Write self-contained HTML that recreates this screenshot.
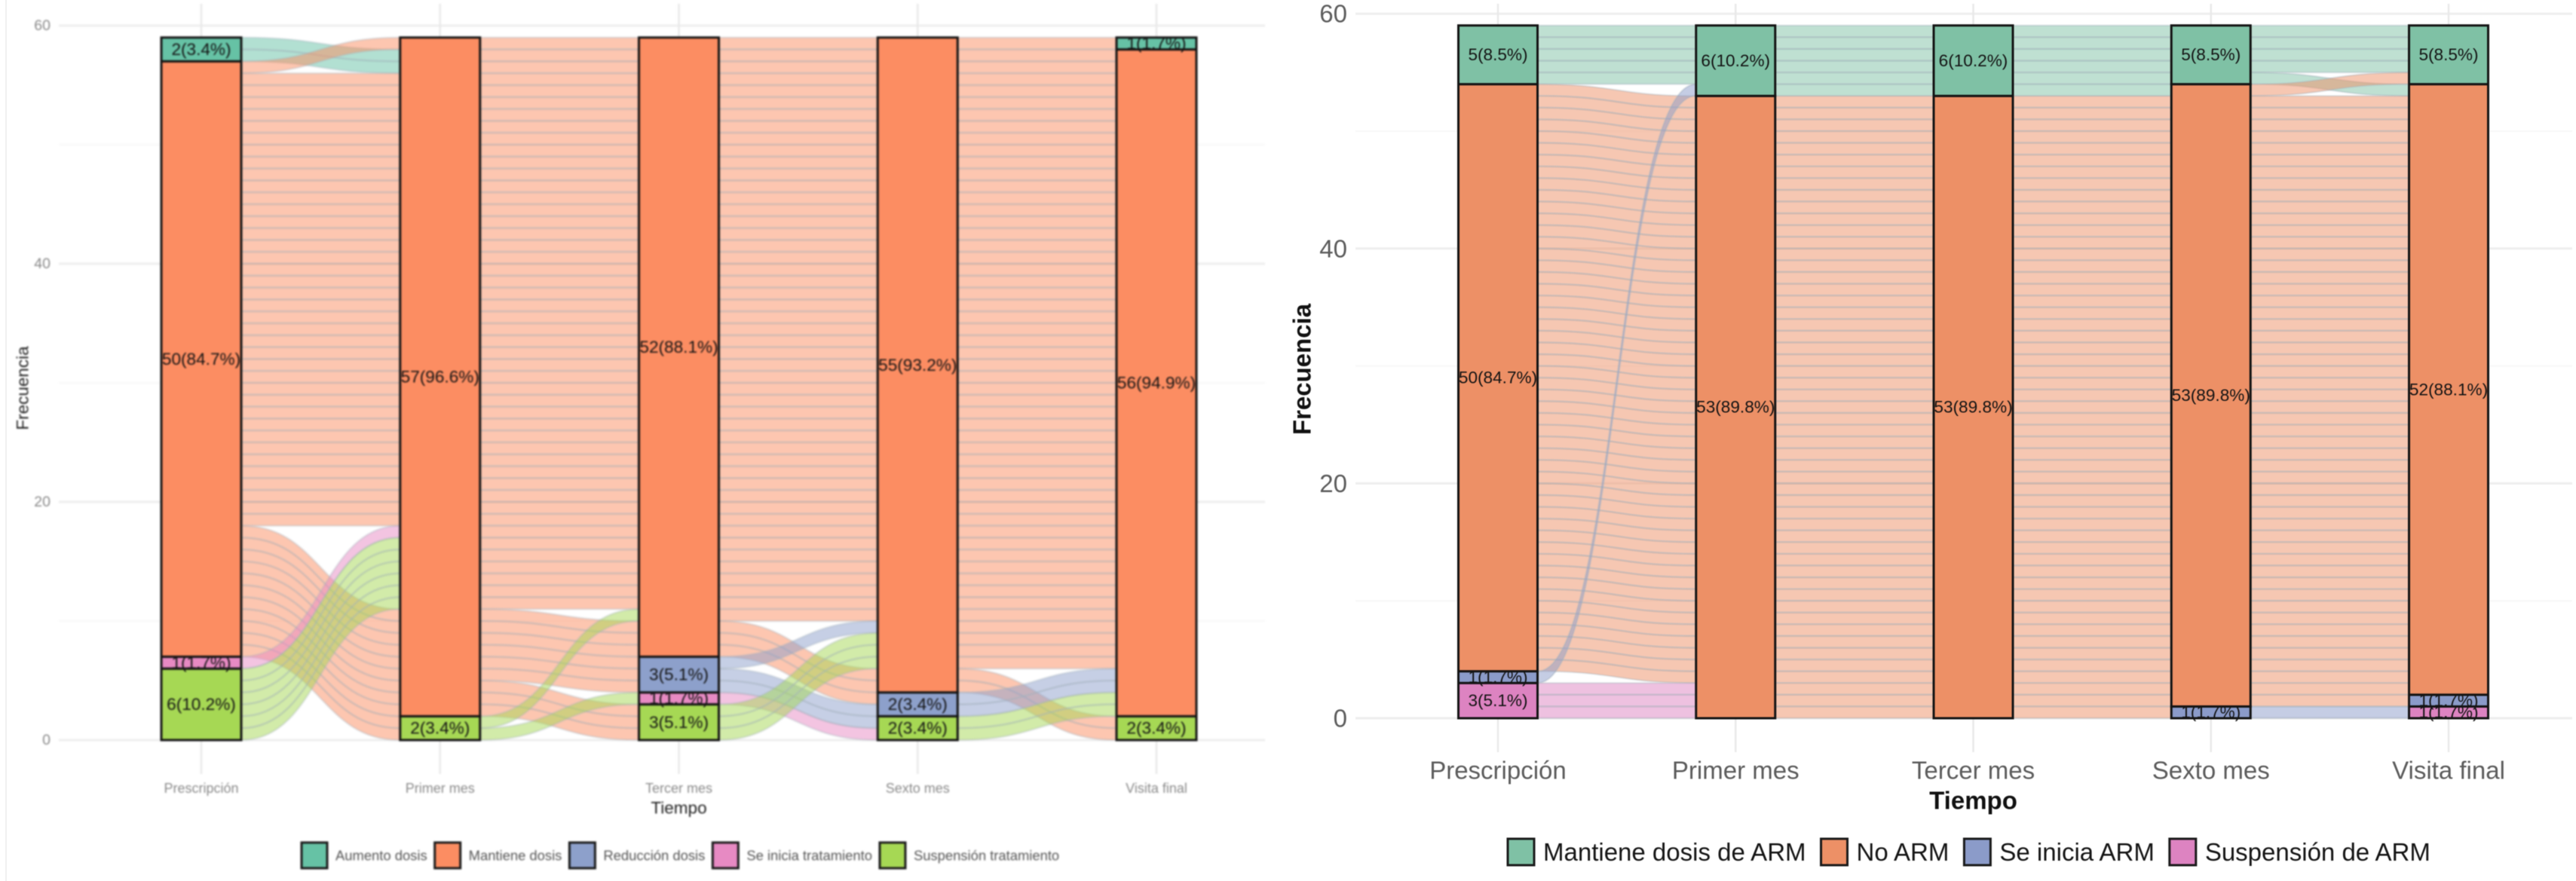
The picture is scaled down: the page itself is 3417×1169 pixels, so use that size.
<!DOCTYPE html>
<html lang="es">
<head>
<meta charset="utf-8">
<title>Diagramas aluviales de tratamiento</title>
<style>
html,body{margin:0;padding:0;background:#fff;}
body{width:3417px;height:1169px;overflow:hidden;}
svg{display:block;font-family:"Liberation Sans",Arial,sans-serif;}
</style>
</head>
<body>
<svg id="figure" xmlns="http://www.w3.org/2000/svg" width="3417" height="1169" viewBox="0 0 3417 1169">
  <rect x="0" y="0" width="3417" height="1169" fill="#ffffff"></rect>
  <rect x="7" y="0" width="2" height="1169" fill="#f0f0f0"></rect>
  <g id="left-chart" style="filter:blur(1px)"></g>
  <g id="right-chart" style="filter:blur(0.6px)"></g>
</svg>
<script>
// ---- shared data ----
const timepoints = ["Prescripción", "Primer mes", "Tercer mes", "Sexto mes", "Visita final"];
const yTicks = [0, 20, 40, 60];
const yMinorTicks = [10, 30, 50];
const totalSubjects = 59;

// ---- left chart: counts per stratum (top to bottom) ----
const leftCategories = ["Aumento dosis", "Mantiene dosis", "Reducción dosis", "Se inicia tratamiento", "Suspensión tratamiento"];
const leftAumento = [2, 0, 0, 0, 1];
const leftMantiene = [50, 57, 52, 55, 56];
const leftReduccion = [0, 0, 3, 2, 0];
const leftInicia = [1, 0, 1, 0, 0];
const leftSuspension = [6, 2, 3, 2, 2];
const leftColors = ["#66c2a5", "#fc8d62", "#8da0cb", "#e78ac3", "#a6d854"];

// left chart flows: interval, category index, subjects, rank leaving, rank arriving
const leftFlowGap = [0, 0, 0, 0, 0, 0, 1, 1, 1, 1, 1, 2, 2, 2, 2, 2, 2, 3, 3, 3, 3];
const leftFlowCat = [0, 1, 1, 1, 3, 4, 1, 1, 1, 4, 4, 1, 1, 2, 2, 3, 4, 1, 1, 2, 4];
const leftFlowCount = [2, 1, 38, 11, 1, 6, 48, 6, 3, 1, 1, 49, 3, 1, 2, 1, 3, 53, 2, 2, 2];
const leftFlowFromRank = [0, 1, 2, 3, 4, 5, 0, 1, 2, 3, 4, 0, 1, 2, 3, 4, 5, 0, 1, 2, 3];
const leftFlowToRank = [1, 0, 2, 5, 3, 4, 0, 2, 4, 1, 3, 0, 3, 1, 4, 5, 2, 0, 3, 1, 2];

// ---- right chart: counts per stratum (top to bottom) ----
const rightCategories = ["Mantiene dosis de ARM", "No ARM", "Se inicia ARM", "Suspensión de ARM"];
const rightMantiene = [5, 6, 6, 5, 5];
const rightNoArm = [50, 53, 53, 53, 52];
const rightInicia = [1, 0, 0, 1, 1];
const rightSuspension = [3, 0, 0, 0, 1];
const rightColors = ["#7fc1a5", "#ed9066", "#8b9bc9", "#dd83c1"];

// right chart flows: interval, category index, subjects, rank leaving, rank arriving
const rightFlowGap = [0, 0, 0, 0, 1, 1, 2, 2, 3, 3, 3, 3, 3];
const rightFlowCat = [0, 1, 2, 3, 0, 1, 0, 1, 0, 0, 1, 1, 2];
const rightFlowCount = [5, 50, 1, 3, 6, 53, 6, 53, 4, 1, 1, 52, 1];
const rightFlowFromRank = [0, 1, 2, 3, 0, 1, 0, 1, 0, 1, 2, 3, 4];
const rightFlowToRank = [0, 2, 1, 3, 0, 1, 0, 1, 0, 2, 1, 3, 4];

const NS = "http://www.w3.org/2000/svg";

function svgEl(parent, tag, attrs, text) {
  const el = document.createElementNS(NS, tag);
  for (const k in attrs) el.setAttribute(k, attrs[k]);
  if (text !== undefined) el.textContent = text;
  parent.appendChild(el);
  return el;
}

function drawChart(cfg) {
  const root = cfg.root;
  const y = v => cfg.y0 - v * cfg.yUnit;
  const xc = i => cfg.x0 + i * cfg.xStep;
  let el;

  // gridlines
  yMinorTicks.forEach(t => {
    el = svgEl(root, "line", {x1: cfg.gridLeft, x2: cfg.gridRight, y1: y(t), y2: y(t), stroke: "#f8f8f8", "stroke-width": 2});
    
    
  });
  yTicks.forEach(t => {
    el = svgEl(root, "line", {x1: cfg.gridLeft, x2: cfg.gridRight, y1: y(t), y2: y(t), stroke: "#eeeeee", "stroke-width": 3});
    
    
  });
  timepoints.forEach((t, i) => {
    el = svgEl(root, "line", {x1: xc(i), x2: xc(i), y1: 5, y2: cfg.vGridBottom, stroke: "#e9e9e9", "stroke-width": 2.5});
    
    
  });

  // flows
  const order = cfg.flowGap.map((_, i) => i);
  timepoints.slice(0, -1).forEach((_, gap) => {
    const members = order.filter(i => cfg.flowGap[i] === gap);
    const fromTop = {}, toTop = {};
    let c = members.reduce((s, i) => s + cfg.flowCount[i], 0);
    members.slice().sort((a, b) => cfg.flowFromRank[a] - cfg.flowFromRank[b]).forEach(i => { fromTop[i] = c; c -= cfg.flowCount[i]; });
    c = members.reduce((s, i) => s + cfg.flowCount[i], 0);
    members.slice().sort((a, b) => cfg.flowToRank[a] - cfg.flowToRank[b]).forEach(i => { toTop[i] = c; c -= cfg.flowCount[i]; });
    const xa = xc(gap) + cfg.barW / 2, xb = xc(gap + 1) - cfg.barW / 2, xm = (xa + xb) / 2;
    members.forEach(i => {
      for (let k = 0; k < cfg.flowCount[i]; k++) {
        const a0 = y(fromTop[i] - k), a1 = y(fromTop[i] - k - 1);
        const b0 = y(toTop[i] - k), b1 = y(toTop[i] - k - 1);
        el = svgEl(root, "path", {
          d: `M${xa} ${a0}C${xm} ${a0} ${xm} ${b0} ${xb} ${b0}L${xb} ${b1}C${xm} ${b1} ${xm} ${a1} ${xa} ${a1}Z`,
          fill: cfg.colors[cfg.flowCat[i]], "fill-opacity": 0.5, stroke: "none"
        });
        
        
        el = svgEl(root, "path", {
          d: `M${xa} ${a0}C${xm} ${a0} ${xm} ${b0} ${xb} ${b0}M${xa} ${a1}C${xm} ${a1} ${xm} ${b1} ${xb} ${b1}`,
          fill: "none", stroke: "rgb(165,180,190)", "stroke-opacity": 0.3, "stroke-width": 2.6
        });
        
        
      }
    });
  });

  // stacked strata: drawn bottom to top so an upper box clips the label below it
  timepoints.forEach((t, i) => {
    let base = 0;
    for (let s = cfg.series.length - 1; s >= 0; s--) {
      const n = cfg.series[s][i];
      if (n <= 0) continue;
      el = svgEl(root, "rect", {
        x: xc(i) - cfg.barW / 2, y: y(base + n), width: cfg.barW, height: n * cfg.yUnit,
        fill: cfg.colors[s], stroke: "#141414", "stroke-width": 3
      });
      
      
      const pct = (n / totalSubjects * 100).toFixed(1);
      el = svgEl(root, "text", {
        x: xc(i), y: y(base + n / 2), "text-anchor": "middle", "dominant-baseline": "central",
        "font-size": 22.6, fill: "#141414"
      }, `${n}(${pct}%)`);
      
      
      base += n;
    }
  });

  // axis labels
  yTicks.forEach(t => {
    el = svgEl(root, "text", {
      x: cfg.yLabelX, y: y(t), "text-anchor": "end", "dominant-baseline": "central",
      "font-size": cfg.yTickSize, fill: cfg.tickColor
    }, String(t));
    
    
  });
  timepoints.forEach((t, i) => {
    el = svgEl(root, "text", {
      x: xc(i), y: cfg.xLabelY, "text-anchor": "middle", "dominant-baseline": "central",
      "font-size": cfg.xTickSize, fill: cfg.tickColor
    }, t);
    
    
  });
  el = svgEl(root, "text", {
    x: xc(2), y: cfg.xTitleY, "text-anchor": "middle", "dominant-baseline": "central",
    "font-size": cfg.titleSize, "font-weight": cfg.titleWeight, fill: cfg.titleColor
  }, "Tiempo");
  
  
  el = svgEl(root, "text", {
    x: 0, y: 0, transform: `translate(${cfg.yTitleX} ${cfg.yTitleY}) rotate(-90)`,
    "text-anchor": "middle", "dominant-baseline": "central",
    "font-size": cfg.titleSize, "font-weight": cfg.titleWeight, fill: cfg.titleColor
  }, "Frecuencia");
  
  

  // legend: entries flow left to right from measured text widths
  let lx = cfg.legendX;
  cfg.categories.forEach((name, s) => {
    el = svgEl(root, "rect", {
      x: lx, y: cfg.legendY, width: cfg.swatch, height: cfg.swatch,
      fill: cfg.colors[s], stroke: "#1a1a1a", "stroke-width": 3
    });
    
    
    el = svgEl(root, "text", {
      x: lx + cfg.swatch + cfg.legendPad, y: cfg.legendY + cfg.swatch / 2,
      "dominant-baseline": "central", "font-size": cfg.legendSize, fill: cfg.legendColor
    }, name);
    
    
    lx += cfg.swatch + cfg.legendPad + el.getComputedTextLength() + cfg.legendGap;
  });
}

drawChart({
  root: document.getElementById("left-chart"),
  y0: 982, yUnit: 15.8, x0: 267, xStep: 316.75, barW: 106,
  gridLeft: 78, gridRight: 1678, vGridBottom: 1027,
  series: [leftAumento, leftMantiene, leftReduccion, leftInicia, leftSuspension],
  colors: leftColors, categories: leftCategories,
  flowGap: leftFlowGap, flowCat: leftFlowCat, flowCount: leftFlowCount,
  flowFromRank: leftFlowFromRank, flowToRank: leftFlowToRank,
  yLabelX: 67, yTickSize: 19.5, xTickSize: 18, xLabelY: 1046, tickColor: "#8a8a8a",
  xTitleY: 1072, yTitleX: 30, yTitleY: 515, titleSize: 22.5, titleWeight: "normal", titleColor: "#222222",
  legendX: 400, legendY: 1118, swatch: 34, legendPad: 11, legendGap: 10, legendSize: 18.4, legendColor: "#555555"
});

drawChart({
  root: document.getElementById("right-chart"),
  y0: 953, yUnit: 15.58, x0: 1987, xStep: 315.25, barW: 105,
  gridLeft: 1798, gridRight: 3412, vGridBottom: 998,
  series: [rightMantiene, rightNoArm, rightInicia, rightSuspension],
  colors: rightColors, categories: rightCategories,
  flowGap: rightFlowGap, flowCat: rightFlowCat, flowCount: rightFlowCount,
  flowFromRank: rightFlowFromRank, flowToRank: rightFlowToRank,
  yLabelX: 1787, yTickSize: 33, xTickSize: 33, xLabelY: 1022, tickColor: "#5c5c5c",
  xTitleY: 1062, yTitleX: 1727, yTitleY: 490, titleSize: 33, titleWeight: "bold", titleColor: "#111111",
  legendX: 2000, legendY: 1113, swatch: 35, legendPad: 12, legendGap: 20, legendSize: 33, legendColor: "#141414"
});
</script>
</body>
</html>
